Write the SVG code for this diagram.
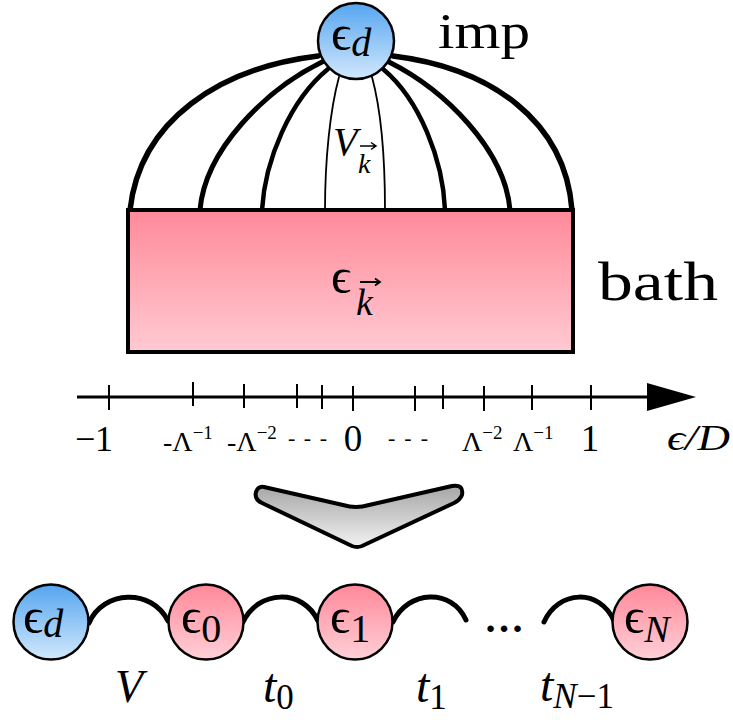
<svg xmlns="http://www.w3.org/2000/svg" width="733" height="720" viewBox="0 0 733 720">
<defs>
<linearGradient id="blue" x1="0" y1="0" x2="0" y2="1"><stop offset="0" stop-color="#55a5f0"/><stop offset="1" stop-color="#d2e8fc"/></linearGradient>
<linearGradient id="pink" x1="0" y1="0" x2="0" y2="1"><stop offset="0" stop-color="#ff8898"/><stop offset="1" stop-color="#ffd0d8"/></linearGradient>
<linearGradient id="bath" x1="0" y1="0" x2="0" y2="1"><stop offset="0" stop-color="#ff8a9a"/><stop offset="1" stop-color="#ffcad2"/></linearGradient>
<linearGradient id="gray" x1="0" y1="0" x2="0" y2="1"><stop offset="0" stop-color="#a6a6a6"/><stop offset="1" stop-color="#f2f2f2"/></linearGradient>
<style>
.t{font-family:"Liberation Serif","DejaVu Serif",serif;fill:#000}
.i{font-style:italic}
.node{stroke:#000;stroke-width:2.5}
.hyb{fill:none;stroke:#000;stroke-linecap:round}
.hop{fill:none;stroke:#000;stroke-width:5;stroke-linecap:round}
.tick{stroke:#000;stroke-width:2}
</style>
</defs>

<g id="connectors">
<path class="hyb" stroke-width="5.5" d="M318,56 C220,68 140,120 130,210"/>
<path class="hyb" stroke-width="5" d="M322,62 C265,90 205,150 200,210"/>
<path class="hyb" stroke-width="4.5" d="M328,69 C290,100 265,160 262,210"/>
<path class="hyb" stroke-width="1.8" d="M339,77 C330,110 325,160 325,210"/>
<path class="hyb" stroke-width="1.8" d="M372,77 C381,110 385,160 385,210"/>
<path class="hyb" stroke-width="4.5" d="M383,69 C420,100 443,160 445,210"/>
<path class="hyb" stroke-width="5" d="M389,62 C445,90 505,150 510,210"/>
<path class="hyb" stroke-width="5.5" d="M393,56 C490,68 565,120 572,210"/>
<path class="hop" d="M89,623 C103,590 152,588 168,621"/>
<path class="hop" d="M243,622 C258,590 303,588 318,621"/>
<path class="hop" d="M393,622 C408,590 452,588 466,620"/>
<path class="hop" d="M544,622 C558,590 600,588 614,621"/>
</g>

<g id="imp">
<circle class="node" cx="356" cy="41" r="38" fill="url(#blue)"/>
<text class="t" x="331" y="50" font-size="50">ϵ<tspan class="i" font-size="40" dy="6">d</tspan></text>
</g>
<text class="t" x="438" y="48" font-size="50" textLength="92" lengthAdjust="spacingAndGlyphs">imp</text>

<text class="t i" x="333" y="155" font-size="40">V</text>
<text class="t i" x="358" y="173" font-size="28">k</text>
<path d="M360,146 H375 M371,142.5 L376,146 L371,149.5" fill="none" stroke="#000" stroke-width="1.5"/>

<g id="bath">
<rect x="128" y="210" width="445" height="142" fill="url(#bath)" stroke="#000" stroke-width="4"/>
<text class="t" x="331" y="293" font-size="50">ϵ</text>
<text class="t i" x="356" y="315" font-size="38">k</text>
<path d="M360,282 H379 M375,278.5 L380,282 L375,285.5" fill="none" stroke="#000" stroke-width="1.8"/>
</g>
<text class="t" x="598" y="300" font-size="54" textLength="120" lengthAdjust="spacingAndGlyphs">bath</text>

<g id="axis">
<line x1="77" y1="397" x2="650" y2="397" stroke="#000" stroke-width="3"/>
<polygon points="647,383 696,397 647,411" fill="#000"/>
<line class="tick" x1="109" y1="385" x2="109" y2="410"/>
<line class="tick" x1="193" y1="382" x2="193" y2="406"/>
<line class="tick" x1="244" y1="384" x2="244" y2="408"/>
<line class="tick" x1="297" y1="384" x2="297" y2="408"/>
<line class="tick" x1="322" y1="385" x2="322" y2="409"/>
<line class="tick" x1="353" y1="386" x2="353" y2="411"/>
<line class="tick" x1="415" y1="386" x2="415" y2="411"/>
<line class="tick" x1="443" y1="385" x2="443" y2="409"/>
<line class="tick" x1="484" y1="386" x2="484" y2="411"/>
<line class="tick" x1="532" y1="385" x2="532" y2="410"/>
<line class="tick" x1="591" y1="385" x2="591" y2="410"/>
<text class="t" x="75" y="451" font-size="36" textLength="38">−1</text>
<text class="t" x="163" y="451" font-size="28">-Λ<tspan font-size="19" dy="-12">−1</tspan></text>
<text class="t" x="227" y="451" font-size="28">-Λ<tspan font-size="19" dy="-12">−2</tspan></text>
<text class="t" x="288" y="445" font-size="22" textLength="39">- - -</text>
<text class="t" x="353" y="451" font-size="37" text-anchor="middle">0</text>
<text class="t" x="388" y="445" font-size="22" textLength="40">- - -</text>
<text class="t" x="462" y="451" font-size="28">Λ<tspan font-size="19" dy="-12">−2</tspan></text>
<text class="t" x="513" y="451" font-size="28">Λ<tspan font-size="19" dy="-12">−1</tspan></text>
<text class="t" x="590" y="451" font-size="37" text-anchor="middle">1</text>
<text class="t i" x="667" y="450" font-size="36" textLength="63" lengthAdjust="spacingAndGlyphs">ϵ/D</text>
</g>

<g id="arrow">
<path d="M264,487 L343,505 Q356,509 369,505 L452,486 Q464,484 462,495 Q460,500 454,503 L362,546 Q357,548 352,546 L262,503 Q254,499 256,492 Q258,486 264,487 Z" fill="url(#gray)" stroke="#000" stroke-width="4" stroke-linejoin="round"/>
</g>

<g id="n-d">
<circle class="node" cx="51" cy="622" r="37.5" fill="url(#blue)"/>
<text class="t" x="23" y="633" font-size="50">ϵ<tspan class="i" font-size="40" dy="4">d</tspan></text>
</g>
<g id="n-0">
<circle class="node" cx="206" cy="622" r="37.5" fill="url(#pink)"/>
<text class="t" x="181" y="633" font-size="50">ϵ<tspan font-size="40" dy="9">0</tspan></text>
</g>
<g id="n-1">
<circle class="node" cx="355" cy="622" r="37.5" fill="url(#pink)"/>
<text class="t" x="330" y="633" font-size="50">ϵ<tspan font-size="40" dy="9">1</tspan></text>
</g>
<text class="t" x="504" y="632" font-size="40" font-weight="bold" text-anchor="middle">…</text>
<g id="n-N">
<circle class="node" cx="650" cy="622" r="37.5" fill="url(#pink)"/>
<text class="t" x="624" y="633" font-size="50">ϵ<tspan class="i" font-size="38" dy="9">N</tspan></text>
</g>

<text class="t i" x="115" y="702" font-size="46">V</text>
<text class="t i" x="263" y="702" font-size="48">t<tspan font-style="normal" font-size="35" dy="7">0</tspan></text>
<text class="t i" x="416" y="702" font-size="48">t<tspan font-style="normal" font-size="35" dy="7">1</tspan></text>
<text class="t i" x="540" y="701" font-size="48">t<tspan font-size="35" dy="7">N</tspan><tspan font-style="normal" font-size="35">−1</tspan></text>
</svg>
